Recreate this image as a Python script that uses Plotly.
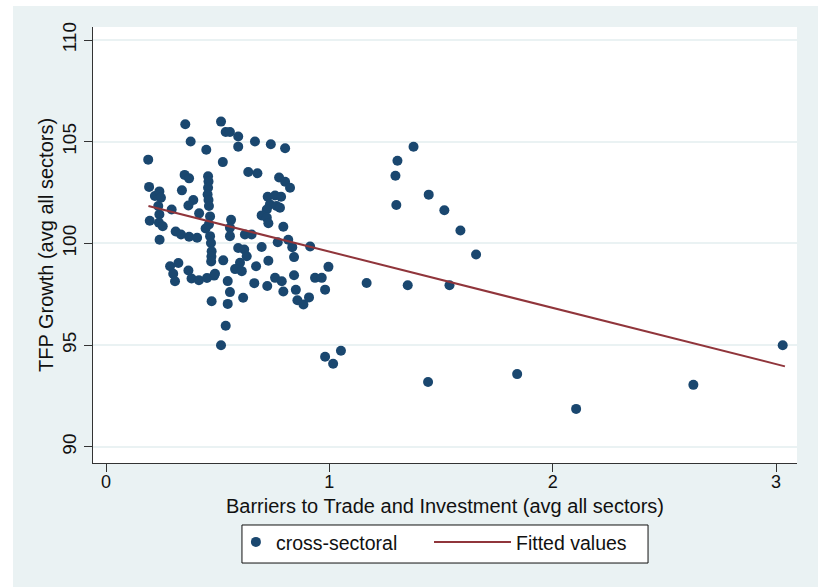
import plotly.graph_objects as go

# Barriers to trade and investment (avg all sectors)
barriers = [
    0.189, 0.193, 0.196, 0.219, 0.239, 0.246, 0.234, 0.239, 0.237, 0.254,
    0.240, 0.294, 0.287, 0.324, 0.301, 0.309, 0.312, 0.336, 0.372, 0.408,
    0.340, 0.352, 0.372, 0.355, 0.379, 0.391, 0.369, 0.417, 0.369, 0.383,
    0.416, 0.452, 0.484, 0.449, 0.446,
    0.457, 0.459, 0.457, 0.455, 0.459, 0.461, 0.466, 0.461, 0.466, 0.470,
    0.473, 0.472, 0.471, 0.473, 0.488,
    0.515, 0.536, 0.555, 0.592, 0.592, 0.667, 0.738, 0.802, 0.523, 0.637,
    0.678, 0.775, 0.802, 0.824, 0.724, 0.757, 0.784, 0.734, 0.764, 0.720,
    0.697, 0.720, 0.727, 0.779, 0.560, 0.555, 0.555, 0.622, 0.652, 0.794,
    0.769, 0.697, 0.592, 0.619, 0.630, 0.600, 0.578, 0.608, 0.525, 0.672,
    0.727, 0.545, 0.664, 0.722, 0.757, 0.787, 0.555, 0.545, 0.614, 0.536,
    0.515, 0.816, 0.834, 0.842, 0.914, 0.996, 0.794, 0.842, 0.936, 0.966,
    0.850, 0.981, 0.857, 0.884, 0.909, 0.981, 1.017, 1.052,
    1.377, 1.305, 1.296, 1.300, 1.445, 1.515, 1.587, 1.657, 1.167, 1.351,
    1.538, 1.442, 1.841, 2.105, 2.630, 3.030,
]

# TFP growth (avg all sectors)
tfp_growth = [
    104.12, 102.78, 101.12, 102.33, 102.56, 102.25, 101.84, 101.43, 101.02, 100.85,
    100.18, 101.67, 98.88, 99.04, 98.51, 98.14, 100.59, 100.44, 100.33, 100.28,
    102.61, 103.37, 103.20, 105.86, 105.01, 102.14, 101.87, 101.48, 98.67, 98.28,
    98.19, 98.30, 98.42, 104.61, 100.74,
    103.30, 103.05, 102.74, 102.41, 102.14, 101.84, 101.33, 100.94, 100.36, 100.02,
    99.62, 99.36, 99.11, 97.16, 98.51,
    105.99, 105.48, 105.48, 105.26, 104.76, 105.01, 104.88, 104.68, 104.00, 103.51,
    103.45, 103.24, 103.03, 102.74, 102.30, 102.36, 102.30, 101.92, 101.84, 101.67,
    101.38, 101.27, 100.99, 101.76, 101.16, 100.77, 100.36, 100.44, 100.44, 100.82,
    100.06, 99.83, 99.78, 99.70, 99.37, 99.05, 98.74, 98.64, 99.17, 98.88,
    99.15, 98.15, 98.05, 97.91, 98.31, 98.14, 97.61, 97.03, 97.33, 95.96,
    95.00, 100.18, 99.82, 99.33, 99.85, 98.85, 97.64, 98.44, 98.31, 98.31,
    97.72, 97.73, 97.21, 97.00, 97.35, 94.43, 94.09, 94.73,
    104.75, 104.07, 103.33, 101.89, 102.40, 101.63, 100.64, 99.46, 98.06, 97.95,
    97.95, 93.19, 93.58, 91.87, 93.05, 95.00,
]

# Fitted values (linear fit), endpoints
fit_x = [0.19, 3.04]
fit_y = [101.84, 93.96]

x_ticks = [0, 1, 2, 3]
y_ticks = [90, 95, 100, 105, 110]

BG = "#eaf2f3"
NAVY = "#1a476f"
MAROON = "#90353b"
FONT = "Liberation Sans, Arial, sans-serif"

fig = go.Figure()
fig.add_trace(go.Scatter(
    x=barriers, y=tfp_growth, mode="markers", name="cross-sectoral",
    marker=dict(color=NAVY, size=10, line=dict(width=0)), legend="legend",
))
fig.add_trace(go.Scatter(
    x=fit_x, y=fit_y, mode="lines", name="Fitted values",
    line=dict(color=MAROON, width=2), legend="legend2",
))

legend_common = dict(
    orientation="h", y=-0.137, xanchor="left", yanchor="top",
    bgcolor="rgba(0,0,0,0)", borderwidth=0, font=dict(size=19.5),
)

fig.update_layout(
    width=818, height=587,
    margin=dict(l=93, r=21, t=27, b=124),
    paper_bgcolor=BG, plot_bgcolor="white",
    font=dict(family=FONT, size=19, color="#111"),
    showlegend=True,
    legend=dict(x=0.203, itemwidth=30, **legend_common),
    legend2=dict(x=0.4773, itemwidth=77, **legend_common),
    xaxis=dict(
        range=[-0.0582, 3.094], tickvals=x_ticks, showgrid=False, zeroline=False,
        showline=True, linecolor="#333", linewidth=1,
        ticks="outside", ticklen=8, tickcolor="#333", ticklabelstandoff=-6,
        tickfont=dict(size=18),
    ),
    yaxis=dict(
        range=[89.21, 110.64], tickvals=y_ticks, tickangle=-90,
        showgrid=True, gridcolor=BG, gridwidth=2, zeroline=False,
        showline=True, linecolor="#333", linewidth=1,
        ticks="outside", ticklen=8, tickcolor="#333",
        title=dict(text="TFP Growth (avg all sectors)", font=dict(size=20), standoff=0),
    ),
    annotations=[
        dict(text="Barriers to Trade and Investment (avg all sectors)",
             xref="paper", yref="paper", x=0.5, y=-0.0975,
             xanchor="center", yanchor="middle", showarrow=False,
             font=dict(size=20)),
    ],
    shapes=[
        dict(type="rect", xref="paper", yref="paper", x0=-0.2, x1=1.1,
             y0=1.048, y1=1.2, fillcolor="white", line=dict(width=0), layer="above"),
        dict(type="rect", xref="paper", yref="paper", x0=-0.2, x1=-0.1136,
             y0=-0.4, y1=1.2, fillcolor="white", line=dict(width=0), layer="above"),
        dict(type="rect", xref="paper", yref="paper", x0=0.2116, x1=0.7884,
             y0=-0.2294, y1=-0.1422, fillcolor="white",
             line=dict(color="#111", width=1), layer="above"),
    ],
)

fig.write_html("out.html", config={"displayModeBar": False},
               post_script="document.body.style.margin='0px';")
